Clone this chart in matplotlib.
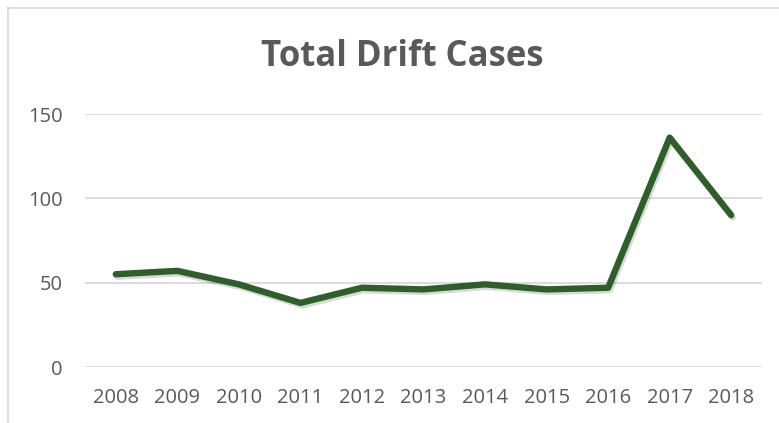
import matplotlib.pyplot as plt
import matplotlib.patheffects as pe
from matplotlib.lines import Line2D

# data
years = ['2008', '2009', '2010', '2011', '2012', '2013', '2014', '2015', '2016', '2017', '2018']
cases = [55, 57, 49, 38, 47, 46, 49, 46, 47, 136, 90]
yticks = [0, 50, 100, 150]

text_grey = '#595959'
grid_grey = '#d9d9d9'
line_green = '#2e5e2a'

plt.rcParams['font.family'] = ['Open Sans', 'DejaVu Sans']

fig = plt.figure(figsize=(7.79, 4.23), dpi=100)
ax = fig.add_axes([85 / 779, 1 - 367 / 423, 677 / 779, 253 / 423])

x = list(range(len(years)))
ax.plot(x, cases, color=line_green, lw=4.6, solid_capstyle='round',
        solid_joinstyle='round', clip_on=False, zorder=3,
        path_effects=[pe.SimpleLineShadow(offset=(1.2, -1.8), alpha=0.15, shadow_color='black'),
                      pe.Normal()])

ax.set_xlim(-0.5, len(years) - 0.5)
ax.set_ylim(0, 150)
ax.set_xticks(x)
ax.set_xticklabels(years)
ax.set_yticks(yticks)
ax.yaxis.grid(True, color=grid_grey, lw=1.3)
ax.set_axisbelow(True)
for s in ax.spines.values():
    s.set_visible(False)
ax.tick_params(length=0, labelsize=14.5, colors=text_grey, pad=15)
ax.tick_params(axis='y', pad=16)

fig.text(402 / 779, 1 - 57 / 423, 'Total Drift Cases', ha='center', va='center',
         fontsize=25, fontweight='bold', color=text_grey)

# outer chart frame (only top and left edges are visible in the crop)
fig.add_artist(Line2D([7 / 779, 1], [1 - 8.5 / 423] * 2, transform=fig.transFigure,
                      color=grid_grey, lw=1.2))
fig.add_artist(Line2D([7.5 / 779] * 2, [0, 1 - 8.5 / 423], transform=fig.transFigure,
                      color=grid_grey, lw=1.2))

fig.savefig('out.png', dpi=100, facecolor='white')
